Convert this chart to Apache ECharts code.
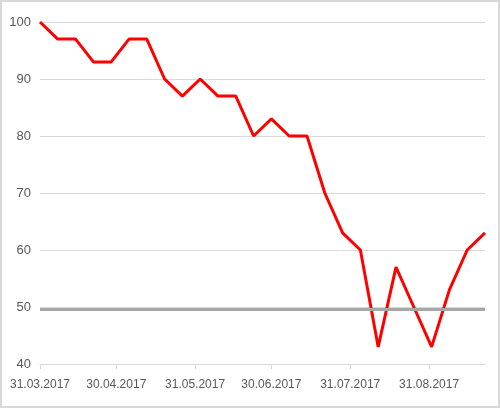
<!DOCTYPE html>
<html>
<head>
<meta charset="utf-8">
<script src="https://cdn.jsdelivr.net/npm/echarts@6/dist/echarts.min.js"></script>
<style>
	html, body { margin: 0; padding: 0; background: #fff; }
	#chart { width: 500px; height: 408px; box-sizing: border-box; border: 2px solid #d9d9d9; }
</style>
</head>
<body>
<div id="chart"></div>
<script>
// 每周数据点
var dates = ['2017-03-31', '2017-04-07', '2017-04-14', '2017-04-21', '2017-04-28', '2017-05-05',
	'2017-05-12', '2017-05-19', '2017-05-26', '2017-06-02', '2017-06-09', '2017-06-16',
	'2017-06-23', '2017-06-30', '2017-07-07', '2017-07-14', '2017-07-21', '2017-07-28',
	'2017-08-04', '2017-08-11', '2017-08-18', '2017-08-25', '2017-09-01', '2017-09-08',
	'2017-09-15', '2017-09-22'];
var values = [100, 97, 97, 93, 93, 97, 97, 90, 87, 90, 87, 87, 80, 83, 80, 80, 70, 63, 60, 43,
	57, 50, 43, 53, 60, 63];

// 月末刻度
var tickDates = ['2017-03-31', '2017-04-30', '2017-05-31', '2017-06-30', '2017-07-31', '2017-08-31'];
var tickLabels = ['31.03.2017', '30.04.2017', '31.05.2017', '30.06.2017', '31.07.2017', '31.08.2017'];

// 参考线
var refLevel = 49.6;

// 日期转换：距第一个日期的天数
function dayOf(s) {
	return Math.round((Date.parse(s + 'T00:00:00Z') - Date.parse(dates[0] + 'T00:00:00Z')) / 86400000);
}

var tickDays = tickDates.map(dayOf);

var myChart = echarts.init(document.getElementById('chart'));

var option = {
	animation: false,
	textStyle: { fontFamily: 'Liberation Sans' },
	grid: { left: 38, right: 13, top: 20, bottom: 42 },
	xAxis: {
		type: 'value',
		min: 0,
		max: dayOf(dates[dates.length - 1]),
		axisLine: { show: true, onZero: false, lineStyle: { color: '#d9d9d9', width: 1 } },
		axisTick: { show: true, length: 5, customValues: tickDays, lineStyle: { color: '#d9d9d9' } },
		axisLabel: {
			customValues: tickDays,
			color: '#595959',
			fontSize: 12,
			margin: 15,
			formatter: function(val) {
				var i = tickDays.indexOf(val);
				return i >= 0 ? tickLabels[i] : '';
			}
		},
		splitLine: { show: false }
	},
	yAxis: {
		type: 'value',
		min: 40,
		max: 100,
		interval: 10,
		axisLine: { show: false },
		axisTick: { show: false },
		axisLabel: { color: '#595959', fontSize: 13, margin: 9 },
		splitLine: { lineStyle: { color: '#d9d9d9', width: 1 } }
	},
	series: [{
		type: 'line',
		z: 1,
		data: [],
		markLine: {
			silent: true,
			symbol: 'none',
			label: { show: false },
			lineStyle: { color: '#a6a6a6', width: 3, type: 'solid' },
			data: [{ yAxis: refLevel }]
		}
	}, {
		type: 'line',
		z: 3,
		symbol: 'none',
		lineStyle: { color: '#ff0000', width: 3 },
		itemStyle: { color: '#ff0000' },
		data: dates.map(function(d, i) {
			return [dayOf(d), values[i]];
		})
	}]
};

myChart.setOption(option);
</script>
</body>
</html>
